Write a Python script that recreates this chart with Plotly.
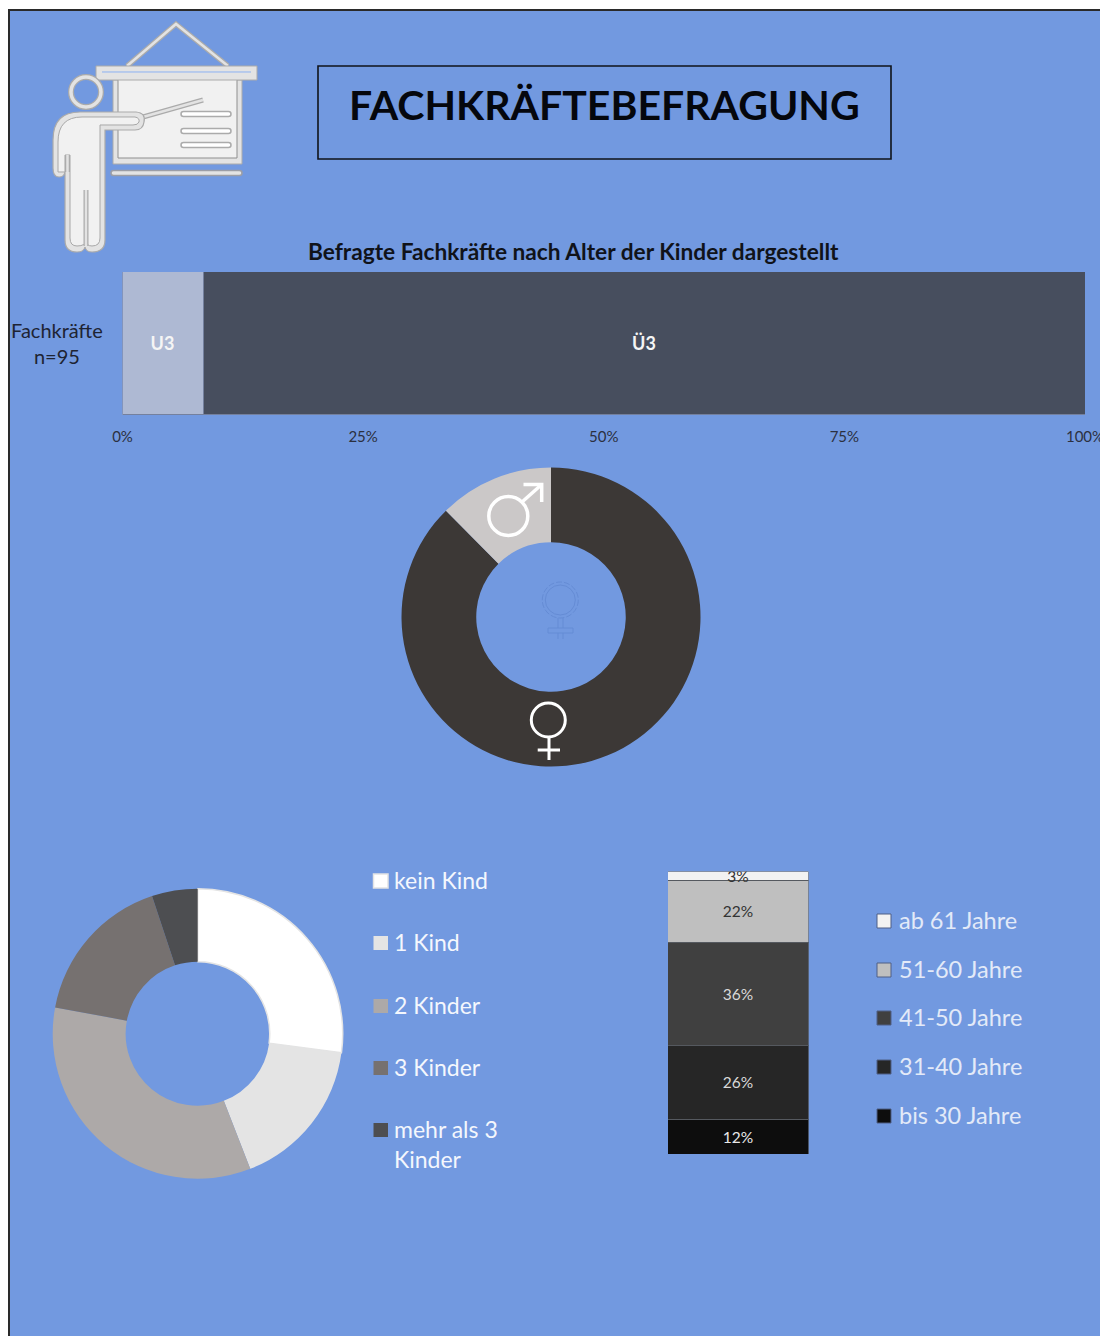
import plotly.graph_objects as go

W, H = 1100, 1336
BG = "#7299E0"
FONT = "Lato"

# Kinder-Alter: share of professionals
care_groups = ["U3", "Ü3"]
care_values = [8.4, 91.6]
care_colors = ["#AEB9D3", "#474E5E"]
care_ticks = [0, 25, 50, 75, 100]
care_tick_labels = ["0%", "25%", "50%", "75%", "100%"]

# Gender split
gender_labels = ["weiblich", "männlich"]
gender_values = [87.6, 12.4]
gender_colors = ["#3C3836", "#CBC8C8"]

# Number of children
kids_labels = ["kein Kind", "1 Kind", "2 Kinder", "3 Kinder", "mehr als 3<br>Kinder"]
kids_values = [27.1, 17.0, 33.8, 17.0, 5.1]
kids_colors = ["#FFFFFF", "#E4E4E4", "#ADA9A8", "#767170", "#4D4E51"]

# Age groups, bottom to top
age_labels = ["bis 30 Jahre", "31-40 Jahre", "41-50 Jahre", "51-60 Jahre", "ab 61 Jahre"]
age_values = [12, 26, 36, 22, 3]
age_colors = ["#0D0D0D", "#262626", "#404040", "#BFBFBF", "#F2F2F2"]
age_text_colors = ["#E8E8E8", "#D9D9D9", "#D9D9D9", "#333333", "#333333"]


def px(x):
    return x / W


def py(y):
    return 1 - y / H


def rect(x0, y0, x1, y1, fill, line=None, width=1, layer="below"):
    return dict(type="rect", xref="paper", yref="paper", layer=layer,
                x0=px(x0), x1=px(x1), y0=py(y0), y1=py(y1), fillcolor=fill,
                line=dict(color=line or "rgba(0,0,0,0)", width=width if line else 0))


def circle(cx, cy, r, line, width, fill="rgba(0,0,0,0)", layer="below", dash="solid"):
    return dict(type="circle", xref="paper", yref="paper", layer=layer,
                x0=px(cx - r), x1=px(cx + r), y0=py(cy - r), y1=py(cy + r),
                fillcolor=fill, line=dict(color=line, width=width, dash=dash))


def path(points, line, width, fill="rgba(0,0,0,0)", closed=False, layer="below"):
    parts = []
    for i, item in enumerate(points):
        if len(item) == 2:
            parts.append(("M" if i == 0 else "L") + f"{px(item[0]):.5f},{py(item[1]):.5f}")
        else:
            # quadratic corner: control point, then end point
            parts.append(f"Q{px(item[0]):.5f},{py(item[1]):.5f} {px(item[2]):.5f},{py(item[3]):.5f}")
    d = " ".join(parts) + (" Z" if closed else "")
    return dict(type="path", xref="paper", yref="paper", layer=layer, path=d,
                fillcolor=fill, line=dict(color=line, width=width))


def stroke(points, outer, inner, w_out, w_in):
    return [path(points, outer, w_out), path(points, inner, w_in)]


def pill(x0, x1, y, half, fill, line, width=1.5):
    # horizontal bar with rounded ends
    return path([(x0 + half, y - half), (x1 - half, y - half), (x1, y - half, x1, y),
                 (x1, y + half, x1 - half, y + half), (x0 + half, y + half), (x0, y + half, x0, y),
                 (x0, y - half, x0 + half, y - half)], line, width, fill, closed=True)


def text(x, y, s, size, color, anchor="left", bold=False, family=FONT):
    return dict(xref="paper", yref="paper", x=px(x), y=py(y), text=f"<b>{s}</b>" if bold else s,
                showarrow=False, xanchor=anchor, yanchor="middle", align=anchor if anchor != "middle" else "center",
                font=dict(family=family, size=size, color=color))


EDGE = "#ABABAB"
PALE = "#E3E3E3"
SHEET = "#F1F1F1"

shapes = [
    rect(9, 10, 1102, 1340, BG, "#2A2A2A", 2),
]

# Presenter icon: roof, rail and board
shapes += stroke([(127, 66), (176, 24), (228, 66)], EDGE, PALE, 5, 2.5)
shapes += [
    rect(113, 80, 242, 164, PALE, EDGE, 1),
    rect(118, 78, 237, 158, SHEET, "#8F8F8F", 1),
    rect(96, 66, 257, 80, PALE, EDGE, 1),
    path([(102, 72), (251, 72)], "#8DB2F2", 1),
    pill(111, 242, 173, 2.5, PALE, "#9C9EA6"),
]
shapes += stroke([(143, 117), (203, 100)], EDGE, PALE, 5, 2.5)
for yy in (114, 131, 145):
    shapes.append(pill(181, 231, yy, 2.5, "#FFFFFF", EDGE))

# Presenter icon: figure outline with a paler core
figure_outer = [(80, 112), (136, 112), (146, 113, 144, 122), (143, 130, 135, 130), (105, 130),
                (105, 240), (105, 252, 92, 252), (86, 252, 85, 247), (84, 252, 77, 252),
                (65, 252, 65, 240), (65, 172), (64, 177, 59, 177), (53, 177, 53, 168), (53, 140),
                (53, 112, 80, 112)]
figure_inner = [(82, 117), (135, 117), (140, 118, 139, 122), (138, 125, 133, 125), (100, 125),
                (100, 238), (100, 246, 92, 246), (86, 246, 86, 240), (86, 246, 77, 246),
                (70, 246, 70, 238), (70, 155), (65, 155), (65, 172), (58, 172), (58, 142),
                (58, 117, 82, 117)]
shapes += [
    path(figure_outer, EDGE, 1.2, PALE, closed=True),
    path(figure_inner, "#A8A8A8", 1, SHEET, closed=True),
]
shapes += stroke([(67.5, 155), (67.5, 172)], EDGE, PALE, 5, 2.5)
shapes += stroke([(86, 190), (86, 246)], EDGE, PALE, 5, 2.5)
shapes += [
    circle(86, 92, 15, EDGE, 6),
    circle(86, 92, 15, PALE, 3.5),
]

# Title frame
shapes.append(rect(318, 66, 891, 159, "rgba(0,0,0,0)", "#10131A", 1.6))

# Gender symbols on the donut, plus the faint one in the hole
shapes += [
    circle(508.3, 516, 19.5, "#FFFFFF", 3.5, layer="above"),
    path([(522, 502), (541.7, 484.5)], "#FFFFFF", 3.5, layer="above"),
    path([(523.5, 484.5), (541.7, 484.5), (541.7, 502)], "#FFFFFF", 3.5, layer="above"),
    circle(548.3, 720, 17, "#FFFFFF", 3, layer="above"),
    path([(549, 738), (549, 760)], "#FFFFFF", 3, layer="above"),
    path([(537.7, 750), (560, 750)], "#FFFFFF", 3, layer="above"),
    circle(560.3, 600, 18, "#658CD5", 1, dash="6px,2px", layer="above"),
    circle(560.3, 600, 15, "#658CD5", 1, layer="above"),
    path([(558, 618), (558, 628)], "#658CD5", 1, layer="above"),
    path([(563, 618), (563, 628)], "#658CD5", 1, layer="above"),
    path([(558, 633), (558, 639)], "#658CD5", 1, layer="above"),
    path([(563, 633), (563, 639)], "#658CD5", 1, layer="above"),
    rect(548, 628, 573, 633, "rgba(0,0,0,0)", "#658CD5", 1, layer="above"),
]

# Legend swatches
kids_legend_y = [881, 943, 1006, 1068, 1130]
for yy, color in zip(kids_legend_y, kids_colors):
    shapes.append(rect(373.5, yy - 7, 388, yy + 7, color, "#E4E4E4" if color == "#FFFFFF" else None, 1.5))

age_legend_y = [1116, 1067, 1018, 970, 921]
for yy, color in zip(age_legend_y, age_colors):
    shapes.append(rect(877, yy - 7, 891, yy + 7, color, "#4F5F85", 1))

annotations = [
    text(604.5, 104.5, "FACHKRÄFTEBEFRAGUNG", 41, "#05070D", "center", bold=True),
    text(573, 252, "Befragte Fachkräfte nach Alter der Kinder dargestellt", 22.7, "#10131A", "center", bold=True),
    text(57, 343, "Fachkräfte<br>n=95", 20, "#1E2433", "center"),
]
for yy, label in zip(kids_legend_y, kids_labels):
    # the two-line entry hangs below its swatch row
    offset = 15.5 if "<br>" in label else 0
    annotations.append(text(392, yy + offset - 1.5, label, 23, "#F4F7FD", "left"))
for yy, label in zip(age_legend_y, age_labels):
    annotations.append(text(897, yy - 1, label, 23.5, "#E3EAF8", "left"))

fig = go.Figure()

for name, value, color in zip(care_groups, care_values, care_colors):
    fig.add_trace(go.Bar(
        x=[value], y=["Fachkräfte"], orientation="h", name=name, text=[f"<b>{name}</b>"],
        textposition="inside", insidetextanchor="middle", textangle=0, constraintext="none",
        textfont=dict(family=FONT, size=18, color="#F5F5F5"),
        marker=dict(color=color, line=dict(color="#74809E", width=1)),
        xaxis="x", yaxis="y", showlegend=False,
    ))

for name, value, color, tcolor in zip(age_labels, age_values, age_colors, age_text_colors):
    fig.add_trace(go.Bar(
        x=["Alter"], y=[value], name=name, text=[f"{value}%"],
        textposition="inside", insidetextanchor="middle", textangle=0, constraintext="none",
        textfont=dict(family=FONT, size=15.5, color=tcolor),
        marker=dict(color=color, line=dict(color="#55595F", width=1)),
        xaxis="x2", yaxis="y2", showlegend=False,
    ))


def donut(labels, values, colors, cx, cy, radius, hole, line_colors, line_widths):
    return go.Pie(
        labels=labels, values=values, hole=hole, sort=False, direction="clockwise", rotation=0,
        textinfo="none", showlegend=False,
        marker=dict(colors=colors, line=dict(color=line_colors, width=line_widths)),
        domain=dict(x=[px(cx - radius), px(cx + radius)], y=[py(cy + radius), py(cy - radius)]),
    )


fig.add_trace(donut(gender_labels, gender_values, gender_colors, 551, 617, 149.5, 0.5,
                    ["rgba(0,0,0,0)"] * 2, [0, 0]))
fig.add_trace(donut(kids_labels, kids_values, kids_colors, 197.7, 1033.7, 145, 0.497,
                    ["#E4E4E4"] + ["rgba(0,0,0,0)"] * 4, [1.5, 0, 0, 0, 0]))

fig.update_layout(
    width=W, height=H, margin=dict(l=0, r=0, t=0, b=0, autoexpand=False), autosize=False,
    paper_bgcolor="#FFFFFF", plot_bgcolor="rgba(0,0,0,0)", barmode="stack", bargap=0,
    shapes=shapes, annotations=annotations,
    xaxis=dict(domain=[px(122.5), px(1085)], range=[0, 100], tickvals=care_ticks, ticktext=care_tick_labels,
               showgrid=False, zeroline=False, showline=False, ticks="outside", ticklen=8,
               ticklabeloverflow="allow",
               tickcolor="rgba(0,0,0,0)", tickfont=dict(family=FONT, size=15, color="#2B3040")),
    yaxis=dict(domain=[py(415), py(272)], showticklabels=False, showgrid=False, zeroline=False, ticks=""),
    xaxis2=dict(domain=[px(668), px(808.5)], anchor="y2", visible=False),
    yaxis2=dict(domain=[py(1154), py(871.5)], anchor="x2", range=[0, sum(age_values)], visible=False),
)

fig.write_html("out.html")
